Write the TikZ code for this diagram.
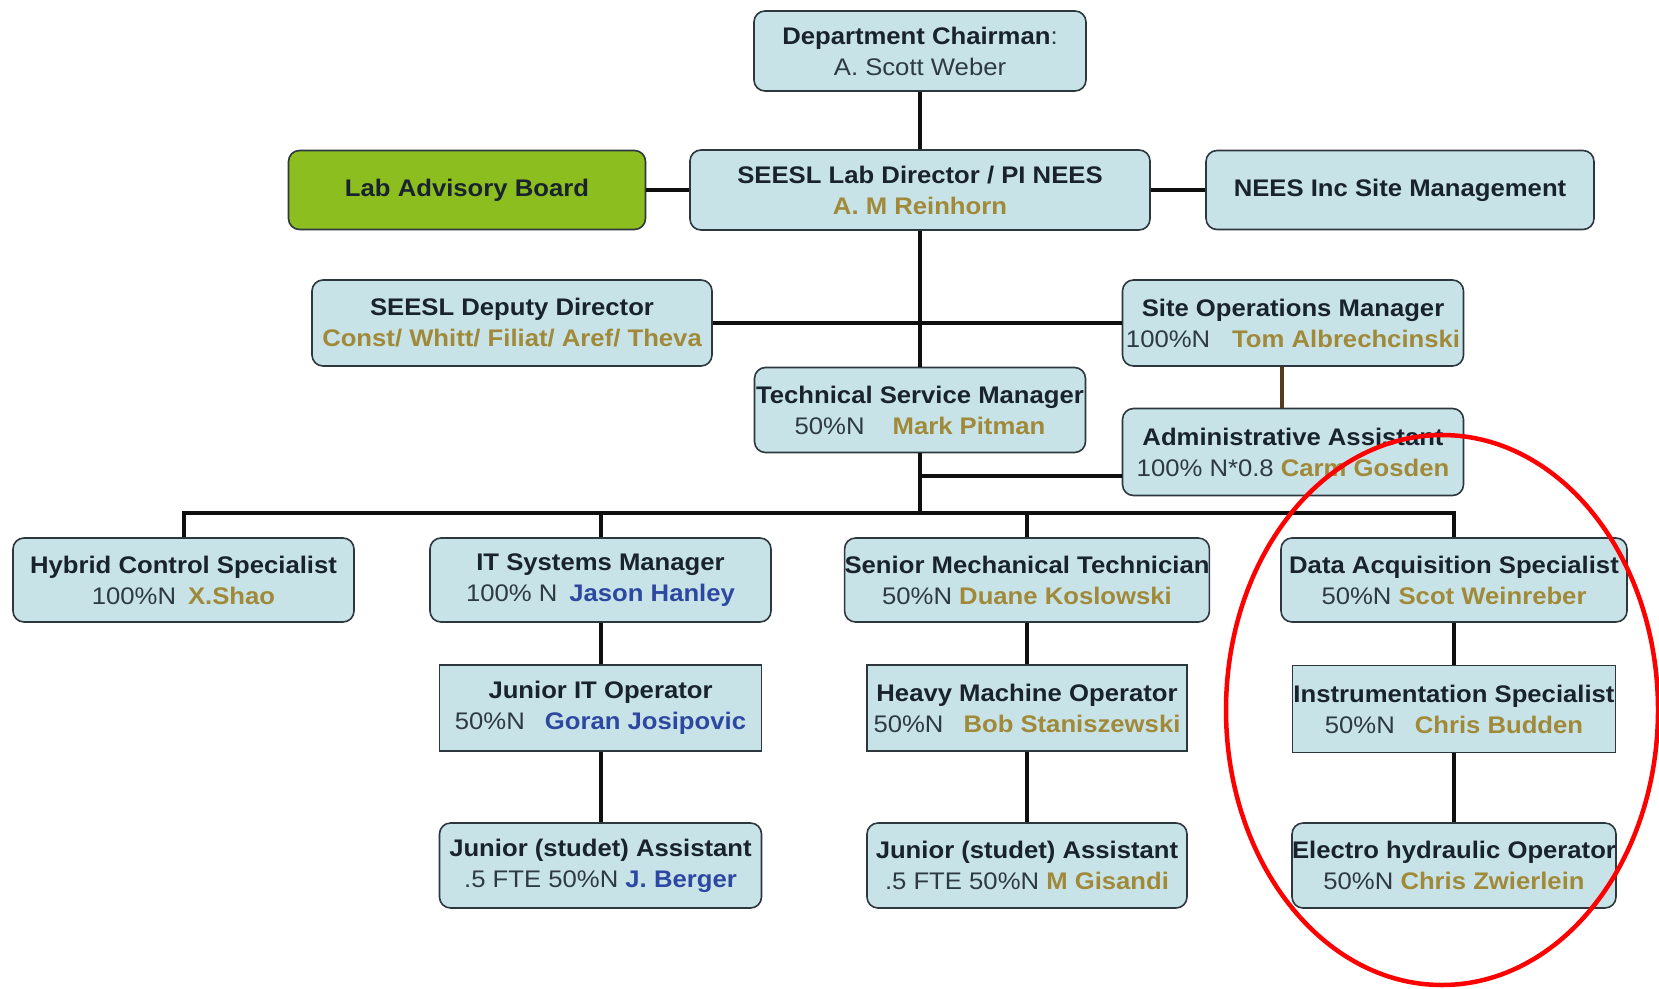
\documentclass[tikz,border=0pt]{standalone}
\usepackage{fontspec}
\setmainfont{Liberation Sans}[FakeStretch=1.07]
\usetikzlibrary{calc}

\definecolor{boxfill}{RGB}{200,227,232}
\definecolor{boxline}{RGB}{45,55,62}
\definecolor{boardgreen}{RGB}{141,190,32}
\definecolor{ink}{RGB}{25,35,45}
\definecolor{softink}{RGB}{45,58,68}
\definecolor{namegold}{RGB}{160,138,58}
\definecolor{nameblue}{RGB}{45,72,160}
\definecolor{wire}{RGB}{15,15,15}
\definecolor{brownwire}{RGB}{85,60,28}

\newcommand\nmgold[1]{\textbf{\textcolor{namegold}{#1}}}
\newcommand\nmblue[1]{\textbf{\textcolor{nameblue}{#1}}}
\newcommand\pct[1]{\textcolor{softink}{#1}}

\tikzset{
  orgbox/.style={draw=boxline, fill=boxfill, line width=1.6pt, rounded corners=11pt,
    inner sep=0pt, align=center, text=ink,
    font=\fontsize{24}{31}\selectfont},
  flatbox/.style={orgbox, sharp corners},
  wh/.style 2 args={minimum width=#1pt, minimum height=#2pt},
  link/.style={draw=wire, line width=4pt},
  brownlink/.style={draw=brownwire, line width=4.5pt},
  mark ring/.style={draw=red, line width=4.5pt}
}

\begin{document}
\begin{tikzpicture}[x=1pt,y=-1pt]
\useasboundingbox (0,0) rectangle (1659,988);
\fill[white] (0,0) rectangle (1659,988);

% ---- top levels ----
\node[orgbox, wh={332}{80}] (chair) at (920,51)
  {\textbf{Department Chairman}\pct{:}\\\pct{A. Scott Weber}};
\node[orgbox, wh={460}{80}] (director) at (920,190)
  {\textbf{SEESL Lab Director / PI NEES}\\\nmgold{A. M Reinhorn}};
\node[orgbox, wh={357}{79}, fill=boardgreen] (board) at (467,190)
  {\textbf{Lab Advisory Board}};
\node[orgbox, wh={388}{79}] (nees) at (1400,190)
  {\textbf{NEES Inc Site Management}};

\node[orgbox, wh={400}{86}] (deputy) at (512,323)
  {\textbf{SEESL Deputy Director}\\\nmgold{Const/ Whitt/ Filiat/ Aref/ Theva}};
\node[orgbox, wh={341}{86}] (siteops) at (1293,323)
  {\textbf{Site Operations Manager}\\\pct{100\%N}\hspace{22pt}\nmgold{Tom Albrechcinski}};
\node[orgbox, wh={331}{85}] (tsm) at (920,410)
  {\textbf{Technical Service Manager}\\\pct{50\%N}\hspace{28pt}\nmgold{Mark Pitman}};
\node[orgbox, wh={341}{87}] (admin) at (1293,452)
  {\textbf{Administrative Assistant}\\\pct{100\% N*0.8} \nmgold{Carm Gosden}};

% ---- staff row ----
\node[orgbox, wh={341}{84}] (hybrid) at (183.5,580)
  {\textbf{Hybrid Control Specialist}\\\pct{100\%N}\hspace{12pt}\nmgold{X.Shao}};
\node[orgbox, wh={341}{84}] (itsys) at (600.5,580)
  {\textbf{IT Systems Manager}\\\pct{100\% N}\hspace{12pt}\nmblue{Jason Hanley}};
\node[orgbox, wh={359}{84}] (senior) at (1027,580)
  {\textbf{Senior Mechanical Technician}\\\pct{50\%N} \nmgold{Duane Koslowski}};
\node[orgbox, wh={346}{84}] (daq) at (1454,580)
  {\textbf{Data Acquisition Specialist}\\\pct{50\%N} \nmgold{Scot Weinreber}};

% ---- second staff row ----
\node[flatbox, wh={322}{86}] (jrit) at (600.5,708)
  {\textbf{Junior IT Operator}\\\pct{50\%N}\hspace{20pt}\nmblue{Goran Josipovic}};
\node[flatbox, wh={320}{86}] (heavy) at (1027,708)
  {\textbf{Heavy Machine Operator}\\\pct{50\%N}\hspace{20pt}\nmgold{Bob Staniszewski}};
\node[flatbox, wh={323}{87}] (instr) at (1454,709)
  {\textbf{Instrumentation Specialist}\\\pct{50\%N}\hspace{20pt}\nmgold{Chris Budden}};

% ---- assistants ----
\node[orgbox, wh={322}{85}] (jra1) at (600.5,865.5)
  {\textbf{Junior (studet) Assistant}\\\pct{.5 FTE 50\%N} \nmblue{J. Berger}};
\node[orgbox, wh={320}{85}] (jra2) at (1027,865.5)
  {\textbf{Junior (studet) Assistant}\\\pct{.5 FTE 50\%N} \nmgold{M Gisandi}};
\node[orgbox, wh={323}{85}] (electro) at (1454,865.5)
  {\textbf{Electro hydraulic Operator}\\\pct{50\%N} \nmgold{Chris Zwierlein}};

% ---- junction points ----
\coordinate (bus) at (920,513);
\coordinate (busL) at (183.5,513);
\coordinate (busR) at (1454,513);
\coordinate (admJ) at (920,476);

% ---- connectors ----
\draw[link] (chair.south) -- (director.north);
\draw[link] (board.east) -- (director.west);
\draw[link] (director.east) -- (nees.west);
\draw[link] (director.south) -- (tsm.north);
\draw[link] (deputy.east) -- (siteops.west);
\draw[brownlink] ([xshift=-11pt]siteops.south) -- ([xshift=-11pt]admin.north);
\draw[link] (tsm.south) -- (bus);
\draw[link] (admJ) -- (admJ -| admin.west);
\draw[link] (hybrid.north) -- (busL) -- (busR) -- (daq.north);
\draw[link] (itsys.north) -- (itsys.north |- bus);
\draw[link] (senior.north) -- (senior.north |- bus);
\draw[link] (itsys.south) -- (jrit.north);
\draw[link] (jrit.south) -- (jra1.north);
\draw[link] (senior.south) -- (heavy.north);
\draw[link] (heavy.south) -- (jra2.north);
\draw[link] (daq.south) -- (instr.north);
\draw[link] (instr.south) -- (electro.north);

% ---- highlight ring ----
\draw[mark ring] (1442,710) ellipse [x radius=216, y radius=275];
\end{tikzpicture}
\end{document}
